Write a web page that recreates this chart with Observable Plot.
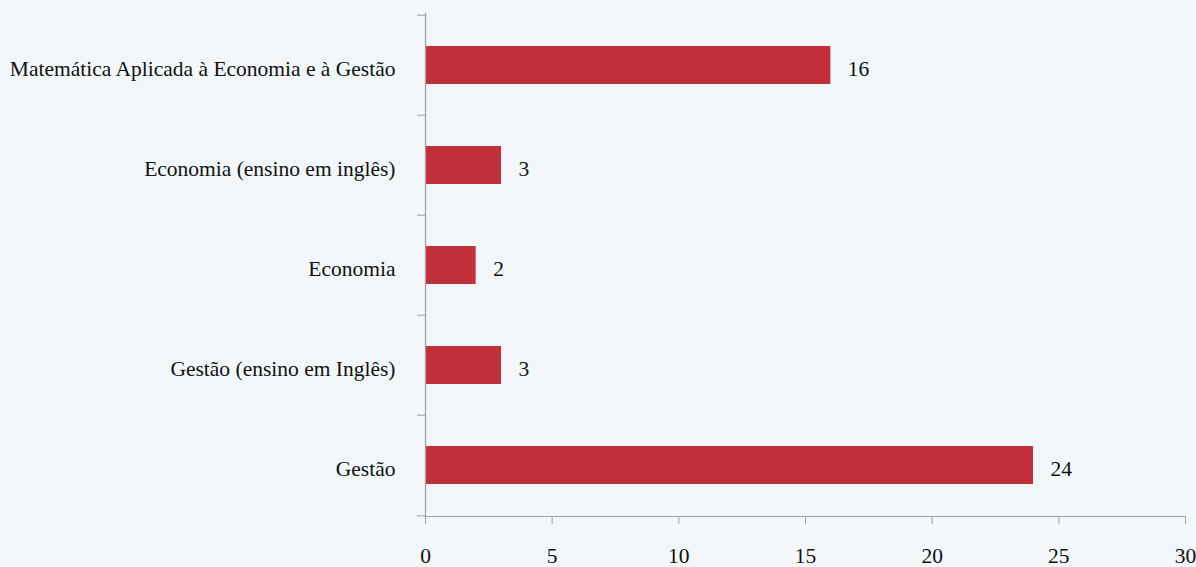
<!DOCTYPE html>
<html>
<head>
<meta charset="utf-8">
<script src="https://cdn.jsdelivr.net/npm/d3@7"></script>
<script src="https://cdn.jsdelivr.net/npm/@observablehq/plot@0.6"></script>
<style>
  html, body { margin: 0; padding: 0; background: #f3f7fa; }
  #chart svg { display: block; }
  #chart svg, #chart svg text { font-family: "Liberation Serif", "Times New Roman", Times, serif !important; }
</style>
</head>
<body>
<div id="chart"></div>
<script>
const categories = [
  "Matemática Aplicada à Economia e à Gestão",
  "Economia (ensino em inglês)",
  "Economia",
  "Gestão (ensino em Inglês)",
  "Gestão"
];
const values = [16, 3, 2, 3, 24];
const xTicks = [0, 5, 10, 15, 20, 25, 30];

const data = categories.map((c, i) => ({category: c, value: values[i]}));

const W = 1196, H = 567;
const mTop = 13, mBottom = 51, mLeft = 425, mRight = 11;
const band = (H - mTop - mBottom) / categories.length;
const axisColor = "#a0a0a0";
const barColor = "#c1303b";
const fs = 21.5;

const chart = Plot.plot({
  width: W,
  height: H,
  marginTop: mTop,
  marginBottom: mBottom,
  marginLeft: mLeft,
  marginRight: mRight,
  style: {background: "#f3f7fa", fontSize: fs + "px", color: "#111"},
  x: {domain: [0, 30]},
  y: {domain: categories, padding: 0.62, paddingOuter: 0.31},
  marks: [
    Plot.barX(data, {x: "value", y: "category", fill: barColor}),
    Plot.text(data, {x: "value", y: "category", text: d => String(d.value), textAnchor: "start", dx: 17, dy: 4, fill: "#111", fontSize: fs}),
    Plot.ruleX([0], {stroke: axisColor, strokeWidth: 1.2}),
    Plot.frame({anchor: "bottom", stroke: axisColor, strokeWidth: 1.2}),
    Plot.axisY({tickSize: 0, tickPadding: 30, dy: 4, label: null, fontSize: fs, fill: "#111"}),
    Plot.axisY({tickSize: 8, tickFormat: () => "", label: null, dy: -band / 2, stroke: axisColor}),
    Plot.axisY({ticks: [categories[categories.length - 1]], tickSize: 8, tickFormat: () => "", label: null, dy: band / 2, stroke: axisColor}),
    Plot.axisX({ticks: xTicks, tickSize: 8, tickPadding: 23, label: null, fontSize: fs, fill: "#111", stroke: axisColor})
  ]
});
document.getElementById("chart").appendChild(chart);
</script>
</body>
</html>
